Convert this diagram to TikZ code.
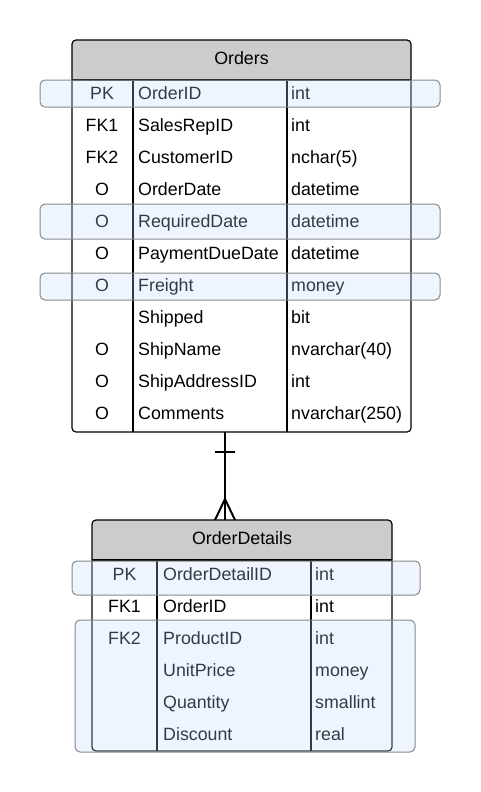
\documentclass[tikz,border=0pt]{standalone}
\usepackage{fontspec}
\setmainfont{Liberation Sans}
\definecolor{hdrgray}{HTML}{CCCCCC}
\definecolor{bandblue}{RGB}{192,218,251}
\definecolor{bandline}{HTML}{8A8A8A}
\tikzset{
  cell/.style={font=\fontsize{17.8}{21}\selectfont, inner sep=0pt},
  keycell/.style={cell, anchor=base},
  namecell/.style={cell, anchor=base west},
  tablebox/.style={draw=black, line width=1.2pt, rounded corners=4pt, inner sep=0pt},
  band/.style={draw=bandline, line width=1pt, fill=bandblue, fill opacity=0.27, rounded corners=5pt},
  conn/.style={line width=2pt, black},
}
\begin{document}
\begin{tikzpicture}[x=1pt, y=-1pt]
\useasboundingbox (0,0) rectangle (480,792);

% Orders
\fill[hdrgray] (72,80) [rounded corners=4pt] -- (72,40) -- (411,40) [sharp corners] -- (411,80) -- cycle;
\node[tablebox, minimum width=339pt, minimum height=392pt] (orders) at (241.5,236) {};
\node[cell] (ordersTitle) at (241.5,58) {Orders};
\draw[line width=1.2pt] (72,80) -- (411,80);
\draw[line width=1.2pt] (133,80) -- (133,432) (287,80) -- (287,432);
\foreach \k/\n/\t [count=\i from 0] in {PK/OrderID/int, FK1/SalesRepID/int, FK2/CustomerID/nchar(5),
    O/OrderDate/datetime, O/RequiredDate/datetime, O/PaymentDueDate/datetime, O/Freight/money,
    {}/Shipped/bit, O/ShipName/nvarchar(40), O/ShipAddressID/int, O/Comments/nvarchar(250)} {
  \node[keycell] (ok\i) at (102, 99+32*\i) {\k};
  \node[namecell] (on\i) at (138, 99+32*\i) {\n};
  \node[namecell] (ot\i) at (291, 99+32*\i) {\t};
}
\draw[band] (40,80) rectangle (440,107);
\draw[band] (40,204) rectangle (440,239);
\draw[band] (40,273) rectangle (440,300);

% OrderDetails
\fill[hdrgray] (92,560) [rounded corners=4pt] -- (92,520) -- (392,520) [sharp corners] -- (392,560) -- cycle;
\node[tablebox, minimum width=300pt, minimum height=231pt] (details) at (242,635.5) {};
\node[cell] (detailsTitle) at (242,538) {OrderDetails};
\draw[line width=1.2pt] (92,560) -- (392,560);
\draw[line width=1.2pt] (157,560) -- (157,751) (311,560) -- (311,751);
\foreach \k/\n/\t [count=\i from 0] in {PK/OrderDetailID/int, FK1/OrderID/int, FK2/ProductID/int,
    {}/UnitPrice/money, {}/Quantity/smallint, {}/Discount/real} {
  \node[keycell] (dk\i) at (124.5, 580+32*\i) {\k};
  \node[namecell] (dn\i) at (163, 580+32*\i) {\n};
  \node[namecell] (dt\i) at (315, 580+32*\i) {\t};
}
\draw[band] (72,561) rectangle (420,595);
\draw[band] (75,620) rectangle (415,752);

% one-to-many link
\coordinate (one) at (225,432);
\coordinate (many) at (225,520);
\draw[conn] (one) -- (many);
\draw[conn] (215,452) -- (235,452);
\draw[conn] (215,520) -- (225,499) -- (235,520);
\end{tikzpicture}
\end{document}
